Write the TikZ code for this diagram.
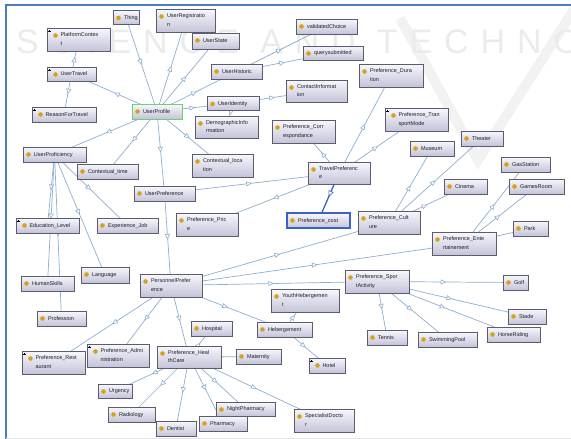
\documentclass[tikz,border=0pt]{standalone}
\usepackage{fontspec}
\setmainfont{Liberation Sans}
\usetikzlibrary{arrows.meta,decorations.markings,backgrounds,shadows}
\definecolor{boxtop}{HTML}{F7F7FD}
\definecolor{boxbot}{HTML}{C4C4D9}
\definecolor{boxline}{HTML}{5C5C70}
\definecolor{edgec}{HTML}{8DAED0}
\definecolor{dotc}{HTML}{D6A21A}
\definecolor{selc}{HTML}{3A62C8}
\definecolor{framec}{HTML}{4A7EBB}
\definecolor{greenc}{HTML}{6FD06F}
\definecolor{txtc}{HTML}{1E1E28}
\newcommand{\tx}[1]{\hspace*{11pt}\begin{tabular}{@{}l@{}}#1\end{tabular}}
\newcommand{\txp}[1]{\hspace*{13.5pt}\begin{tabular}{@{}l@{}}#1\end{tabular}}
\tikzset{
  cls/.style 2 args={draw=boxline, line width=0.5pt, top color=boxtop, bottom color=boxbot,
    text width=#1pt, minimum height=#2pt, inner xsep=0pt, inner ysep=0pt, align=left,
    text=txtc, font=\fontsize{5.5}{8.5}\selectfont,
    drop shadow={shadow xshift=0.8pt, shadow yshift=-0.8pt, opacity=0.25},
    path picture={\fill[dotc] ([xshift=5.5pt,yshift=-7.5pt]path picture bounding box.north west) circle (2.3pt);}},
  plus/.style={path picture={
    \fill[dotc] ([xshift=8.5pt,yshift=-7.5pt]path picture bounding box.north west) circle (2.3pt);
    \draw[black, line width=0.4pt] ([xshift=1.2pt,yshift=-3pt]path picture bounding box.north west) -- ([xshift=3.8pt,yshift=-3pt]path picture bounding box.north west)
      ([xshift=2.5pt,yshift=-1.7pt]path picture bounding box.north west) -- ([xshift=2.5pt,yshift=-4.3pt]path picture bounding box.north west);}},
  rootsel/.style={draw=greenc, line width=0.9pt},
  costsel/.style={draw=selc, line width=1.2pt},
  sub/.style={draw=edgec, line width=0.7pt, postaction={decorate},
    decoration={markings, mark=at position 0.5 with {\arrow[edgec, line width=0.6pt]{Triangle[open, length=5.5pt, width=5pt, fill=white]}}}},
  selsub/.style={draw=selc, line width=1.3pt, postaction={decorate},
    decoration={markings, mark=at position 0.5 with {\arrow[selc, line width=0.6pt]{Triangle[open, length=6pt, width=5.5pt, fill=white]}}}},
  wm/.style={text=black!8, inner sep=0pt, font=\fontsize{34}{34}\selectfont\addfontfeature{LetterSpace=35}}
}
\begin{document}
\begin{tikzpicture}[x=1pt, y=-1pt]
\useasboundingbox (0,0) rectangle (571,439);
% nodes
\node[cls={26}{14}] (Thing) at (126,17.5) {\tx{Thing}};
\node[cls={59}{23}] (UserRegistration) at (185.5,20.5) {\tx{UserRegistratio\\n}};
\node[cls={63}{23}, plus] (PlatformContext) at (78.5,39.5) {\txp{PlatformContex\\t}};
\node[cls={47}{16}] (UserState) at (215.5,41) {\tx{UserState}};
\node[cls={49}{14}, plus] (UserTravel) at (71.5,74) {\txp{UserTravel}};
\node[cls={51}{15}] (UserHistoric) at (236.5,71.5) {\tx{UserHistoric}};
\node[cls={64}{15}, plus] (ReasonForTravel) at (64,114.5) {\txp{ReasonForTravel}};
\node[cls={50}{15}, rootsel] (UserProfile) at (157,111.5) {\tx{UserProfile}};
\node[cls={52}{14}] (UserIdentity) at (233,103.5) {\tx{UserIdentity}};
\node[cls={63}{22}] (Demographic) at (226.5,127) {\tx{DemographicInfo\\rmation}};
\node[cls={61}{15}] (validatedChoice) at (326.5,26.5) {\tx{validatedChoice}};
\node[cls={60}{14}] (querysubmitted) at (333,53) {\tx{querysubmitted}};
\node[cls={61}{22}] (ContactInformation) at (316.5,91) {\tx{ContactInformat\\ion}};
\node[cls={64}{23}] (PrefDuration) at (391,75.5) {\tx{Preference\_Dura\\tion}};
\node[cls={63}{23}, plus] (PrefTransport) at (416.5,119.5) {\txp{Preference\_Tran\\sportMode}};
\node[cls={63}{23}] (PrefCorr) at (303.5,131.5) {\tx{Preference\_Corr\\espondance}};
\node[cls={42}{15}] (Theater) at (482,138.5) {\tx{Theater}};
\node[cls={44}{15}] (Museum) at (432,148.5) {\tx{Museum}};
\node[cls={61}{23}] (CtxLocation) at (222.5,165.5) {\tx{Contextual\_loca\\tion}};
\node[cls={62}{22}] (TravelPref) at (339,173) {\tx{TravelPreferenc\\e}};
\node[cls={63}{15}] (UserProficiency) at (54.5,154.5) {\tx{UserProficiency}};
\node[cls={61}{15}] (CtxTime) at (107.5,171.5) {\tx{Contextual\_time}};
\node[cls={61}{15}] (UserPreference) at (164.5,193.5) {\tx{UserPreference}};
\node[cls={49}{15}] (GasStation) at (525.5,164.5) {\tx{GasStation}};
\node[cls={43}{15}] (Cinema) at (465.5,186.5) {\tx{Cinema}};
\node[cls={55}{15}] (GamesRoom) at (536.5,186.5) {\tx{GamesRoom}};
\node[cls={62}{23}] (PrefPrice) at (207,224.5) {\tx{Preference\_Pric\\e}};
\node[cls={63}{15}, costsel] (PrefCost) at (318.5,220.5) {\tx{Preference\_cost}};
\node[cls={62}{23}] (PrefCulture) at (389,222.5) {\tx{Preference\_Cult\\ure}};
\node[cls={63}{15}, plus] (EduLevel) at (47.5,225.5) {\txp{Education\_Level}};
\node[cls={61}{15}] (ExpJob) at (127.5,225.5) {\tx{Experience\_Job}};
\node[cls={35}{15}] (Park) at (530.5,228.5) {\tx{Park}};
\node[cls={64}{23}] (PrefEnt) at (464,243.5) {\tx{Preference\_Ente\\rtainement}};
\node[cls={48}{16}] (Language) at (105,275) {\tx{Language}};
\node[cls={53}{15}] (HumanSkills) at (47.5,283.5) {\tx{HumanSkills}};
\node[cls={62}{23}] (PersPref) at (171,285.5) {\tx{PersonnelPrefer\\ence}};
\node[cls={64}{23}] (PrefSport) at (377,281.5) {\tx{Preference\_Spor\\tActivity}};
\node[cls={25}{15}] (Golf) at (515.5,282.5) {\tx{Golf}};
\node[cls={68}{23}] (YouthHeb) at (305,300.5) {\tx{YouthHebergemen\\t}};
\node[cls={49}{15}] (Profession) at (61.5,318.5) {\tx{Profession}};
\node[cls={38}{15}] (Stade) at (527,316.5) {\tx{Stade}};
\node[cls={41}{15}] (Hospital) at (211.5,328.5) {\tx{Hospital}};
\node[cls={55}{15}] (Hebergement) at (284.5,329.5) {\tx{Hebergement}};
\node[cls={40}{15}] (Tennis) at (387,337.5) {\tx{Tennis}};
\node[cls={59}{15}] (SwimmingPool) at (447.5,339.5) {\tx{SwimmingPool}};
\node[cls={53}{15}] (HorseRiding) at (513.5,334.5) {\tx{HorseRiding}};
\node[cls={63}{23}, plus] (PrefRest) at (53.5,362.5) {\txp{Preference\_Rest\\aurant}};
\node[cls={62}{23}, plus] (PrefAdmin) at (118,355.5) {\txp{Preference\_Admi\\nistration}};
\node[cls={64}{22}] (PrefHealth) at (189,357) {\tx{Preference\_Heal\\thCare}};
\node[cls={45}{15}] (Maternity) at (258.5,356.5) {\tx{Maternity}};
\node[cls={36}{15}, plus] (Hotel) at (327,365.5) {\txp{Hotel}};
\node[cls={34}{14}] (Urgency) at (115,391) {\tx{Urgency}};
\node[cls={59}{14}] (NightPharmacy) at (245.5,409) {\tx{NightPharmacy}};
\node[cls={47}{15}] (Radiology) at (131.5,414.5) {\tx{Radiology}};
\node[cls={60}{23}] (SpecDoctor) at (324,420.5) {\tx{SpecialistDocto\\r}};
\node[cls={48}{15}] (Pharmacy) at (223,423.5) {\tx{Pharmacy}};
\node[cls={40}{15}] (Dentist) at (176,428.5) {\tx{Dentist}};
% background: watermark, frame, connectors
\begin{pgfonlayer}{background}
\begin{scope}
\clip (0,0) rectangle (571,439);
\draw[black!5, line width=10pt] (400,18) -- (478,160) -- (575,8);
\node[wm, anchor=west] (wmtext) at (16,42) {SCIENCE AND TECHNOLOGY};
\end{scope}
\draw[framec, line width=1.4pt] (571,5) -- (6,5) -- (6,439);
\draw[black!10, line width=0.8pt] (6,438.5) -- (571,438.5);
\draw[sub] (Thing.center) -- (UserProfile.center);
\draw[sub] (UserProfile.center) -- (UserRegistration.center);
\draw[sub] (UserProfile.center) -- (UserState.center);
\draw[sub] (UserProfile.center) -- (UserHistoric.center);
\draw[sub] (UserProfile.center) -- (UserIdentity.center);
\draw[sub] (UserProfile.center) -- (UserTravel.center);
\draw[sub] (UserProfile.center) -- (UserProficiency.center);
\draw[sub] (UserProfile.center) -- (CtxTime.center);
\draw[sub] (UserProfile.center) -- (UserPreference.center);
\draw[sub] (UserProfile.center) -- (CtxLocation.center);
\draw[sub] (UserHistoric.center) -- (validatedChoice.center);
\draw[sub] (UserHistoric.center) -- (querysubmitted.center);
\draw[sub] (UserIdentity.center) -- (Demographic.center);
\draw[sub] (UserIdentity.center) -- (ContactInformation.center);
\draw[sub] (UserTravel.center) -- (PlatformContext.center);
\draw[sub] (UserTravel.center) -- (ReasonForTravel.center);
\draw[sub] (UserProficiency.center) -- (EduLevel.center);
\draw[sub] (UserProficiency.center) -- (HumanSkills.center);
\draw[sub] (UserProficiency.center) -- (Profession.center);
\draw[sub] (UserProficiency.center) -- (Language.center);
\draw[sub] (UserProficiency.center) -- (ExpJob.center);
\draw[sub] (UserPreference.center) -- (PersPref.center);
\draw[sub] (UserPreference.center) -- (TravelPref.center);
\draw[sub] (TravelPref.center) -- (PrefPrice.center);
\draw[selsub] (TravelPref.center) -- (PrefCost.center);
\draw[sub] (TravelPref.center) -- (PrefCorr.center);
\draw[sub] (TravelPref.center) -- (PrefDuration.center);
\draw[sub] (TravelPref.center) -- (PrefTransport.center);
\draw[sub] (PersPref.center) -- (PrefCulture.center);
\draw[sub] (PersPref.center) -- (PrefEnt.center);
\draw[sub] (PersPref.center) -- (PrefSport.center);
\draw[sub] (PersPref.center) -- (Hebergement.center);
\draw[sub] (PersPref.center) -- (PrefRest.center);
\draw[sub] (PersPref.center) -- (PrefAdmin.center);
\draw[sub] (PersPref.center) -- (PrefHealth.center);
\draw[sub] (PrefCulture.center) -- (Museum.center);
\draw[sub] (PrefCulture.center) -- (Theater.center);
\draw[sub] (PrefCulture.center) -- (Cinema.center);
\draw[sub] (PrefEnt.center) -- (GasStation.center);
\draw[sub] (PrefEnt.center) -- (GamesRoom.center);
\draw[sub] (PrefEnt.center) -- (Park.center);
\draw[sub] (PrefSport.center) -- (Golf.center);
\draw[sub] (PrefSport.center) -- (Stade.center);
\draw[sub] (PrefSport.center) -- (HorseRiding.center);
\draw[sub] (PrefSport.center) -- (SwimmingPool.center);
\draw[sub] (PrefSport.center) -- (Tennis.center);
\draw[sub] (Hebergement.center) -- (YouthHeb.center);
\draw[sub] (Hebergement.center) -- (Hotel.center);
\draw[sub] (PrefHealth.center) -- (Hospital.center);
\draw[sub] (PrefHealth.center) -- (Maternity.center);
\draw[sub] (PrefHealth.center) -- (Urgency.center);
\draw[sub] (PrefHealth.center) -- (Radiology.center);
\draw[sub] (PrefHealth.center) -- (Dentist.center);
\draw[sub] (PrefHealth.center) -- (Pharmacy.center);
\draw[sub] (PrefHealth.center) -- (NightPharmacy.center);
\draw[sub] (PrefHealth.center) -- (SpecDoctor.center);
\end{pgfonlayer}
\end{tikzpicture}
\end{document}
